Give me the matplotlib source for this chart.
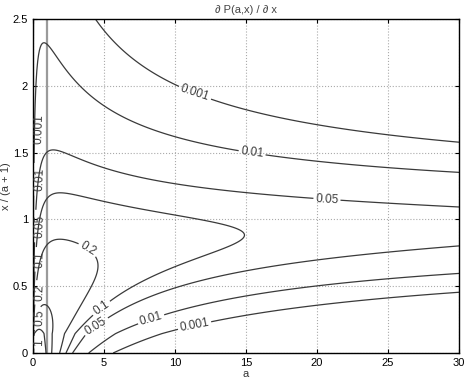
import math
import numpy as np
import matplotlib
matplotlib.use("Agg")
import matplotlib.pyplot as plt

plt.rcParams['font.family'] = ['Liberation Sans', 'DejaVu Sans']

# contour levels of dP(a,x)/dx and the grid the derivative is taken on
levels = [0.001, 0.01, 0.05, 0.1, 0.2, 0.5, 1.0]
a_max = 30
y_max = 2.5
step = 0.145          # half step (in x/(a+1)) of the central difference
a_break = 1.0         # grey seam at a = 1

# where the labels sit (a, x/(a+1))
label_spots = [(11.8, 2.1), (15.4, 1.47), (20.7, 1.15), (4.0, 0.81), (4.9, 0.32),
               (4.5, 0.19), (8.3, 0.26), (11.4, 0.19),
               (0.0, 1.68), (0.05, 1.3), (0.2, 0.95), (0.3, 0.7), (0.5, 0.45),
               (0.6, 0.25), (0.4, 0.08)]
left_label_a = 0.45

a_vals = np.concatenate([[0.002], np.linspace(0.03, a_max, 500)])
y_vals = np.linspace(0.0, y_max + 0.5, 1500)
A, Y = np.meshgrid(a_vals, y_vals)
X = Y * (A + 1)
lg = np.vectorize(math.lgamma)(A)
with np.errstate(all='ignore'):
    pdf = np.exp((A - 1) * np.log(X) - X - lg)
pdf = np.nan_to_num(pdf, nan=0.0, posinf=0.0)

# P(a, x) along each column, then dP/dx by central difference
dy = y_vals[1] - y_vals[0]
P = np.vstack([np.zeros((1, len(a_vals))),
               np.cumsum(0.5 * (pdf[1:] + pdf[:-1]) * dy, axis=0)]) * (a_vals + 1)
D = np.zeros_like(P)
lo = np.maximum(y_vals - step, 0)
hi = y_vals + step
for j in range(len(a_vals)):
    D[:, j] = (np.interp(hi, y_vals, P[:, j]) - np.interp(lo, y_vals, P[:, j])) / ((hi - lo) * (a_vals[j] + 1))

fig = plt.figure(figsize=(4.69, 3.80), dpi=100)
ax = fig.add_axes([0.0704, 0.0711, 0.9083, 0.8789])

ax.axvline(a_break, color='#9a9a9a', linewidth=1.6, zorder=1)
cs = ax.contour(A, Y, D, levels=levels, colors='#3a3a3a', linewidths=0.9, zorder=2)
ax.clabel(cs, fmt='%g', fontsize=8.5, manual=label_spots, inline=True, inline_spacing=2)
for t in cs.labelTexts:
    if t.get_position()[0] < left_label_a:
        t.set_x(left_label_a)
        t.set_rotation(88)

ax.set_xlim(0, a_max)
ax.set_ylim(0, y_max)
ax.set_xticks([0, 5, 10, 15, 20, 25, 30])
ax.set_yticks([0, 0.5, 1, 1.5, 2, 2.5])
ax.set_yticklabels(['0', '0.5', '1', '1.5', '2', '2.5'])
ax.tick_params(direction='in', labelsize=8, length=3, top=True, right=True)
ax.grid(True, linestyle=':', color='#aaaaaa', linewidth=0.8)
for s in ax.spines.values():
    s.set_linewidth(1.0)
ax.set_xlabel('a', fontsize=8, labelpad=1, color='#333333')
ax.set_ylabel('x / (a + 1)', fontsize=8, labelpad=1, color='#333333')
ax.set_title('\u2202 P(a,x) / \u2202 x', fontsize=8, color='#444444', pad=4)

fig.savefig('out.png', dpi=100)
